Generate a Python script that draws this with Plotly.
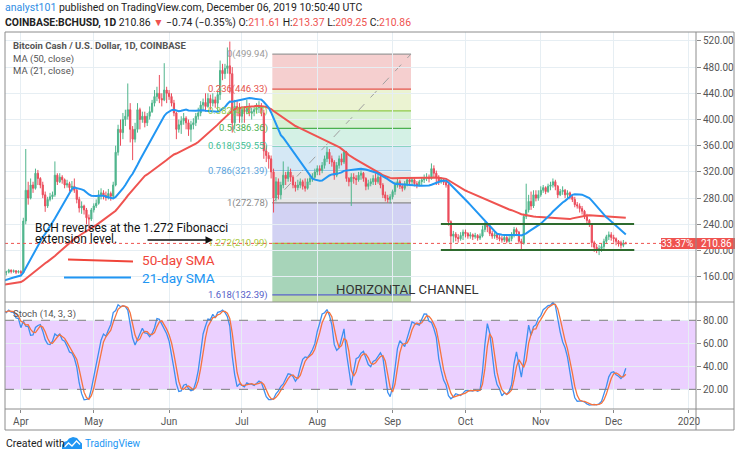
import pandas as pd
import numpy as np
import plotly.graph_objects as go

# ---------------- DATA ----------------
# Off-screen closes Feb 4 - Mar 3 2019 (only used to warm up the moving averages)
warmup_close = [140, 142, 139, 138, 143, 144, 142, 140, 139, 142, 141, 143, 142, 145,
                152, 155, 153, 151, 152, 156, 145, 140, 139, 141, 138, 140, 139, 137]

# Daily closes / highs / lows from Mar 4 2019 to Dec 6 2019 (open = previous close)
close_mar = [141, 144, 146, 147, 145, 146, 144, 147, 148, 151, 150, 152, 153, 152,
             158, 162, 164, 167, 165, 168, 166, 167, 167, 170, 168, 169, 167, 168]
high_mar = [143, 146, 148, 149, 148, 148, 147, 149, 150, 153, 153, 154, 156, 155,
            160, 164, 166, 170, 169, 170, 169, 170, 169, 172, 171, 171, 170, 170]
low_mar = [136, 140, 143, 144, 143, 144, 142, 143, 145, 147, 148, 149, 151, 150,
           151, 156, 160, 162, 160, 163, 163, 163, 162, 165, 165, 166, 164, 165]

close_apr = [166, 245, 292, 280, 300, 295, 318, 310, 300, 285, 268, 278, 282, 285,
             315, 305, 312, 308, 300, 302, 296, 298, 292, 278, 265, 268, 262, 250, 248, 262]
high_apr = [170, 250, 355, 305, 310, 305, 325, 323, 312, 305, 290, 282, 288, 290,
            336, 318, 318, 315, 310, 308, 305, 306, 310, 295, 282, 275, 270, 265, 255, 265]
low_apr = [163, 165, 240, 270, 278, 288, 293, 300, 295, 280, 259, 265, 275, 278,
           282, 300, 303, 302, 295, 296, 290, 290, 288, 272, 258, 256, 255, 240, 234, 245]

close_may = [268, 272, 285, 288, 284, 281, 287, 283, 300, 350, 385, 380, 400, 405,
             415, 385, 370, 385, 415, 400, 405, 395, 405, 412, 425, 435, 440, 432, 430, 445, 440]
high_may = [272, 278, 292, 295, 292, 290, 294, 290, 305, 360, 392, 400, 410, 415,
            455, 425, 390, 395, 425, 418, 412, 412, 410, 420, 430, 445, 450, 468, 440, 486, 450]
low_may = [258, 265, 270, 278, 278, 276, 278, 276, 280, 298, 345, 360, 370, 390,
           400, 365, 338, 365, 380, 385, 395, 388, 390, 400, 410, 420, 428, 425, 420, 428, 425]

close_jun = [435, 425, 410, 385, 392, 398, 402, 395, 385, 392, 395, 405, 410, 422,
             426, 420, 432, 425, 430, 425, 438, 475, 470, 478, 482, 470, 395, 420, 418, 405]
high_jun = [445, 440, 430, 412, 400, 405, 410, 405, 400, 398, 402, 410, 418, 428,
            432, 440, 440, 438, 440, 435, 442, 490, 485, 485, 510, 519, 480, 430, 428, 425]
low_jun = [430, 420, 405, 370, 380, 378, 392, 385, 375, 366, 385, 390, 400, 405,
           415, 412, 418, 415, 420, 418, 412, 430, 460, 462, 470, 440, 380, 385, 405, 395]

close_jul = [415, 412, 420, 410, 412, 415, 418, 420, 410, 352, 345, 340, 320, 280,
             305, 285, 300, 315, 310, 320, 312, 300, 296, 300, 305, 298, 295, 305, 310, 312, 320]
high_jul = [420, 420, 430, 425, 418, 420, 425, 428, 425, 415, 360, 350, 345, 325,
            312, 310, 305, 336, 320, 328, 325, 315, 305, 308, 310, 308, 310, 310, 315, 318, 325]
low_jul = [395, 395, 408, 405, 400, 405, 410, 410, 405, 340, 335, 325, 310, 258,
           275, 278, 278, 295, 300, 305, 305, 295, 290, 292, 295, 293, 290, 293, 300, 305, 308]

close_aug = [325, 322, 330, 340, 350, 340, 335, 315, 330, 340, 335, 350, 310, 305,
             312, 310, 308, 315, 318, 310, 298, 302, 305, 310, 305, 312, 300, 285, 280, 278, 282]
high_aug = [330, 330, 335, 345, 358, 355, 345, 338, 335, 345, 348, 353, 352, 312,
            318, 318, 315, 320, 322, 320, 312, 308, 310, 315, 318, 318, 314, 303, 290, 285, 286]
low_aug = [315, 315, 318, 325, 335, 332, 328, 308, 312, 325, 330, 332, 305, 298,
           268, 302, 300, 305, 308, 305, 292, 293, 298, 300, 300, 302, 295, 280, 275, 273, 272]

close_sep = [290, 300, 305, 298, 295, 302, 308, 305, 308, 302, 300, 305, 308, 310,
             312, 310, 325, 318, 312, 305, 308, 304, 300, 244, 222, 225, 220, 218, 223, 228]
high_sep = [293, 305, 310, 308, 302, 306, 312, 312, 312, 310, 306, 308, 312, 316,
            318, 316, 333, 330, 322, 315, 312, 310, 308, 302, 246, 230, 228, 225, 228, 232]
low_sep = [278, 285, 296, 294, 290, 292, 298, 300, 300, 298, 295, 298, 300, 303,
           306, 304, 308, 312, 300, 300, 302, 300, 296, 238, 201, 212, 214, 212, 215, 216]

close_oct = [226, 222, 224, 221, 223, 219, 222, 232, 240, 236, 226, 222, 224, 220,
             218, 216, 220, 214, 218, 225, 232, 228, 214, 211, 252, 262, 275, 268, 285, 280, 285]
high_oct = [232, 228, 228, 226, 227, 225, 226, 238, 244, 242, 240, 230, 228, 226,
            225, 222, 224, 222, 222, 228, 236, 235, 230, 218, 256, 302, 285, 290, 292, 292, 292]
low_oct = [220, 218, 218, 216, 218, 215, 216, 220, 228, 228, 222, 218, 218, 216,
           214, 212, 213, 211, 212, 214, 220, 222, 210, 200, 209, 248, 258, 262, 265, 275, 276]

close_nov = [292, 296, 290, 298, 300, 305, 298, 285, 290, 292, 285, 288, 282, 278,
             270, 268, 264, 260, 252, 246, 240, 212, 205, 201, 203, 206, 214, 221, 224, 220]
high_nov = [298, 300, 298, 302, 305, 310, 308, 300, 294, 298, 294, 292, 290, 285,
            282, 274, 272, 268, 262, 256, 248, 242, 215, 210, 208, 210, 218, 224, 229, 228]
low_nov = [282, 288, 286, 288, 292, 296, 292, 280, 283, 285, 280, 280, 278, 274,
           266, 264, 258, 255, 248, 242, 236, 205, 198, 196, 193, 198, 200, 210, 216, 215]

close_dec = [218, 214, 212, 208, 211.61, 210.86]
high_dec = [224, 220, 216, 215, 216, 213.37]
low_dec = [212, 208, 206, 203, 205, 209.25]

# Fibonacci retracement drawn by the author
fib_ratios = ["0", "0.236", "0.382", "0.5", "0.618", "0.786", "1", "1.272", "1.618"]
fib_prices = [499.94, 446.33, 413.17, 386.36, 359.55, 321.39, 272.78, 210.99, 132.39]
fib_start, fib_end = "2019-07-13 12:00", "2019-09-08 14:00"

# Horizontal channel drawn by the author
channel_upper, channel_lower = 240.5, 200.8
channel_start, channel_end = "2019-09-20 21:00", "2019-12-09 12:00"

last_price = 210.86
last_change_pct = "33.37%"

price_ticks = [160, 200, 240, 280, 320, 360, 400, 440, 480, 520]
stoch_ticks = [20, 40, 60, 80]
month_ticks = ["2019-04-01", "2019-05-01", "2019-06-01", "2019-07-01", "2019-08-01",
               "2019-09-01", "2019-10-01", "2019-11-01", "2019-12-01", "2020-01-01"]
month_labels = ["Apr", "May", "Jun", "Jul", "Aug", "Sep", "Oct", "Nov", "Dec", "2020"]

# ---------------- DERIVED SERIES ----------------
closes = (close_mar + close_apr + close_may + close_jun + close_jul + close_aug +
          close_sep + close_oct + close_nov + close_dec)
highs = (high_mar + high_apr + high_may + high_jun + high_jul + high_aug +
         high_sep + high_oct + high_nov + high_dec)
lows = (low_mar + low_apr + low_may + low_jun + low_jul + low_aug +
        low_sep + low_oct + low_nov + low_dec)
dates = pd.date_range("2019-03-04", "2019-12-06", freq="D")
assert len(closes) == len(highs) == len(lows) == len(dates)
opens = [warmup_close[-1]] + closes[:-1]

all_dates = pd.date_range("2019-02-04", "2019-12-06", freq="D")
full_close = pd.Series(warmup_close + closes, index=all_dates)
ma50 = full_close.rolling(50).mean()
ma21 = full_close.rolling(21).mean()
ma50 = ma50[ma50.index >= "2019-03-20"]
ma21 = ma21[ma21.index >= "2019-03-20"]

c = pd.Series(closes, index=dates)
h = pd.Series(highs, index=dates)
l = pd.Series(lows, index=dates)
raw_k = 100 * (c - l.rolling(14).min()) / (h.rolling(14).max() - l.rolling(14).min())
stoch_k = raw_k.rolling(3).mean()
stoch_d = stoch_k.rolling(3).mean()

# ---------------- LAYOUT HELPERS ----------------
W, H = 740, 457
L, R, T, B = 5, 696, 32, 409


def px(x):
    return (x - L) / (R - L)


def py(y):
    return (B - y) / (B - T)


split = py(302)
UP, DN = "#4fb58c", "#eb4d5c"
GRID = "#e6eef3"
FONT = "Roboto"
x_lo, x_hi = "2019-03-25 11:00", "2020-01-03 21:30"

fig = go.Figure()
fig.add_trace(go.Candlestick(
    x=dates, open=opens, high=highs, low=lows, close=closes,
    increasing=dict(line=dict(color=UP, width=1), fillcolor=UP),
    decreasing=dict(line=dict(color=DN, width=1), fillcolor=DN),
    whiskerwidth=0, xaxis="x", yaxis="y", showlegend=False, hoverinfo="skip"))
fig.add_trace(go.Scatter(x=ma50.index, y=ma50.values, mode="lines",
                         line=dict(color="#ef5350", width=2), xaxis="x", yaxis="y",
                         showlegend=False, hoverinfo="skip"))
fig.add_trace(go.Scatter(x=ma21.index, y=ma21.values, mode="lines",
                         line=dict(color="#2196f3", width=2), xaxis="x", yaxis="y",
                         showlegend=False, hoverinfo="skip"))
fig.add_trace(go.Scatter(x=dates, y=stoch_k.values, mode="lines",
                         line=dict(color="#3d8ff0", width=1.3), xaxis="x2", yaxis="y2",
                         showlegend=False, hoverinfo="skip"))
fig.add_trace(go.Scatter(x=dates, y=stoch_d.values, mode="lines",
                         line=dict(color="#f5733f", width=1.3), xaxis="x2", yaxis="y2",
                         showlegend=False, hoverinfo="skip"))

shapes = []
# Fibonacci fills
fill_colors = ["#f5cfcf", "#ebf3d2", "#d8f1d3", "#d4f1e5", "#d5e8f5", "#e6e6e6",
               "#d2d2f3", "#a7d4b9"]
for i, col in enumerate(fill_colors):
    shapes.append(dict(type="rect", xref="x", yref="y", x0=fib_start, x1=fib_end,
                       y0=fib_prices[i + 1], y1=fib_prices[i], fillcolor=col,
                       line=dict(width=0), layer="below"))
shapes.append(dict(type="rect", xref="x", yref="y", x0=fib_start, x1=fib_end,
                   y0=121.4, y1=fib_prices[-1], fillcolor="#bedba8",
                   line=dict(width=0), layer="below"))
level_colors = ["#9a9a9a", "#e5534b", "#8fca4a", "#4cb050", "#3fbf94", "#5aa3dc",
                "#8a8a8a", "#a6c83c", "#5560c8"]
for p, col in zip(fib_prices, level_colors):
    shapes.append(dict(type="line", xref="x", yref="y", x0=fib_start, x1=fib_end,
                       y0=p, y1=p, line=dict(color=col, width=1.2), layer="below"))
shapes.append(dict(type="line", xref="x", yref="y", x0=fib_start, x1=fib_end,
                   y0=fib_prices[6], y1=fib_prices[0],
                   line=dict(color="#a0a0a0", width=1, dash="dash"), layer="below"))
# channel
for yv, xe in [(channel_upper, "2019-12-09 10:00"), (channel_lower, channel_end)]:
    shapes.append(dict(type="line", xref="x", yref="y", x0=channel_start, x1=xe,
                       y0=yv, y1=yv, line=dict(color="#2e6b2e", width=2)))
# last price dotted
shapes.append(dict(type="line", xref="paper", yref="y", x0=0, x1=1, y0=last_price,
                   y1=last_price, line=dict(color="#ef5350", width=1, dash="dot")))
# stoch band
shapes.append(dict(type="rect", xref="paper", yref="y2", x0=0, x1=1, y0=20, y1=80,
                   fillcolor="rgba(153,21,255,0.2)", line=dict(width=0), layer="below"))
for yv in (20, 80):
    shapes.append(dict(type="line", xref="paper", yref="y2", x0=0, x1=1, y0=yv, y1=yv,
                       line=dict(color="#7d7d7d", width=1, dash="dash")))
# SMA legend strokes
shapes.append(dict(type="line", xref="paper", yref="paper", x0=px(68), x1=px(133),
                   y0=py(259.5), y1=py(261.5), line=dict(color="#f0453a", width=2)))
shapes.append(dict(type="line", xref="paper", yref="paper", x0=px(64), x1=px(131),
                   y0=py(277.5), y1=py(277.5), line=dict(color="#2196f3", width=2)))
# price label box
shapes.append(dict(type="rect", xref="paper", yref="paper", x0=px(661), x1=px(735),
                   y0=py(249), y1=py(238), fillcolor="#ef5350", line=dict(width=0)))
# frame
FR = dict(color="#8c8c8c", width=1)
for (x0, y0, x1, y1) in [(5, 32, 734, 32), (5, 32, 5, 430), (734, 32, 734, 430),
                         (5, 430, 734, 430), (696, 32, 696, 430), (5, 302, 734, 302),
                         (5, 409, 734, 409)]:
    shapes.append(dict(type="line", xref="paper", yref="paper", x0=px(x0), x1=px(x1),
                       y0=py(y0), y1=py(y1), line=FR))
# TradingView logo (cloud)
cloud = [(62, 449), (62, 445), (64, 442), (67, 441), (69, 438.5), (73, 437), (77, 438),
         (79.5, 441), (82, 443.5), (82, 449)]
path = "M " + " L ".join(f"{px(a):.5f},{py(b):.5f}" for a, b in cloud) + " Z"
shapes.append(dict(type="path", xref="paper", yref="paper", path=path,
                   fillcolor="#2196f3", line=dict(width=0)))
zz = [(64.5, 447), (68.5, 443), (72, 446), (76.5, 441), (80, 444.5)]
path2 = "M " + " L ".join(f"{px(a):.5f},{py(b):.5f}" for a, b in zz)
shapes.append(dict(type="path", xref="paper", yref="paper", path=path2,
                   line=dict(color="white", width=1.3)))

ann = []


def text(x, y, s, size=10, color="#333", anchor="left", family=FONT):
    ann.append(dict(xref="paper", yref="paper", x=px(x), y=py(y), text=s,
                    showarrow=False, xanchor=anchor, yanchor="middle",
                    font=dict(size=size, color=color, family=family)))


RED = "#ef5350"
text(3, 7, "<span style='color:#2f8de4'>analyst101</span> published on TradingView.com, "
     "December 06, 2019 10:50:40 UTC", size=10.5, color="#222")
text(3, 23, "<b>COINBASE:BCHUSD, 1D</b> 210.86 <span style='color:#ef5350'>▼</span> "
     "−0.74 (−0.35%) O:<span style='color:#ef5350'>211.61</span> "
     "H:<span style='color:#ef5350'>213.37</span> "
     "L:<span style='color:#ef5350'>209.25</span> "
     "C:<span style='color:#ef5350'>210.86</span>", size=10.4, color="#222")
text(11, 45.5, "<b>Bitcoin Cash / U.S. Dollar, 1D, COINBASE</b>", size=9.5, color="#555")
text(11, 58.5, "MA (50, close)", size=9.5, color="#555")
text(11, 71, "MA (21, close)", size=9.5, color="#555")
text(11, 314, "Stoch (14, 3, 3)", size=9.5, color="#555")
text(33, 227.5, "BCH reverses at the 1.272 Fibonacci", size=12, color="#111")
text(33, 238.5, "extension level.", size=12, color="#111")
text(140, 259.5, "50-day SMA", size=13.6, color="#f0453a")
text(140, 277.5, "21-day SMA", size=13.6, color="#2196f3")
text(334, 289, "HORIZONTAL CHANNEL", size=13.2, color="#333")
text(677, 243.5, last_change_pct, size=10, color="white", anchor="center")
text(716, 243.5, f"{last_price:.2f}", size=10, color="white", anchor="center")
text(4, 443, "Created with", size=10.5, color="#222")
text(83, 443, "TradingView", size=10, color="#2196f3")

for lab, p, col in zip(fib_ratios, fib_prices, level_colors):
    ann.append(dict(xref="x", yref="y", x=fib_start, y=p, xshift=-2,
                    text=f"{lab}({p:.2f})", showarrow=False, xanchor="right",
                    yanchor="middle", font=dict(size=9.5, color=col, family=FONT)))

# arrow
ann.append(dict(xref="paper", yref="paper", x=px(213), y=py(240), ax=-67, ay=0,
                text="", showarrow=True, arrowhead=2, arrowsize=1, arrowwidth=1.5,
                arrowcolor="#111"))

axis_font = dict(size=10, color="#555", family=FONT)
fig.update_layout(
    width=W, height=H, margin=dict(l=L, r=W - R, t=T, b=H - B),
    paper_bgcolor="white", plot_bgcolor="white", showlegend=False,
    xaxis=dict(domain=[0, 1], anchor="y", type="date", range=[x_lo, x_hi],
               tickvals=month_ticks, showticklabels=False, showgrid=True,
               gridcolor=GRID, zeroline=False, showline=False, ticks="",
               rangeslider=dict(visible=False)),
    xaxis2=dict(domain=[0, 1], anchor="y2", type="date", range=[x_lo, x_hi],
                matches="x", tickvals=month_ticks, ticktext=month_labels,
                showgrid=True, gridcolor=GRID, zeroline=False, showline=False,
                ticks="outside", ticklen=3, tickcolor="#888", tickfont=axis_font),
    yaxis=dict(domain=[split, 1], anchor="x", side="right", range=[121.4, 533.6],
               tickvals=price_ticks, ticktext=[f"{v:.2f}" for v in price_ticks],
               showgrid=True, gridcolor=GRID, zeroline=False, showline=False,
               ticks="outside", ticklen=4, tickcolor="#888", tickfont=axis_font,
               automargin=False),
    yaxis2=dict(domain=[0, split], anchor="x2", side="right", range=[2.9, 95.9],
                tickvals=stoch_ticks, ticktext=[f"{v:.2f}" for v in stoch_ticks],
                showgrid=True, gridcolor=GRID, zeroline=False, showline=False,
                ticks="outside", ticklen=4, tickcolor="#888", tickfont=axis_font,
                automargin=False),
    shapes=shapes, annotations=ann,
)

fig.write_html("out.html", config={"displayModeBar": False},
               post_script="document.body.style.margin='0px';")
